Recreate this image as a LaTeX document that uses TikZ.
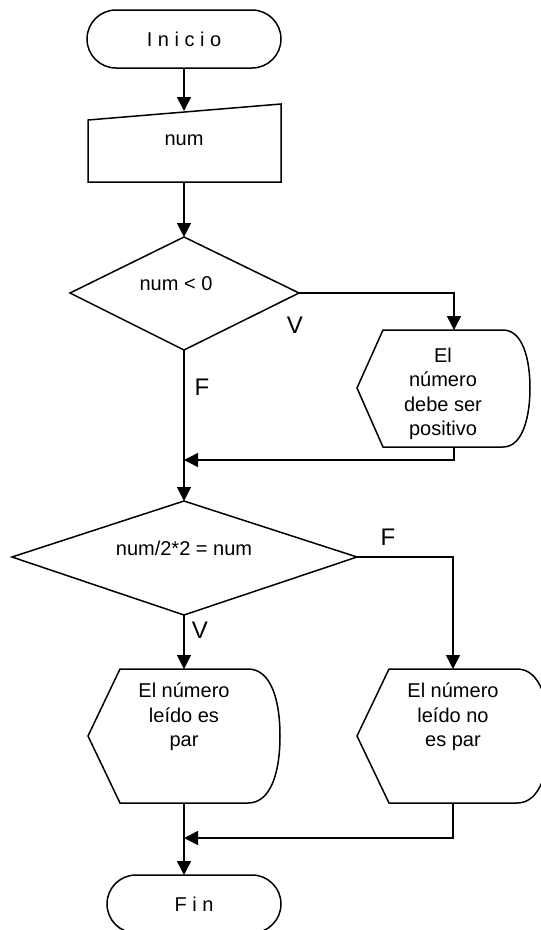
\documentclass[tikz,border=0pt]{standalone}
\usepackage{fontspec}
\setmainfont{Liberation Sans}
\usetikzlibrary{arrows.meta,shapes.misc}
\begin{document}
\begin{tikzpicture}[x=1pt,y=-1pt,
  shp/.style={line width=1.5pt, line join=miter},
  conn/.style={line width=1.5pt},
  arr/.style={conn, -{Triangle[length=14pt,width=14pt]}},
  txt/.style={font=\fontsize{20}{24.5}\selectfont, align=center, inner sep=0pt},
  lbl/.style={font=\fontsize{24}{26}\selectfont, inner sep=0pt},
  term/.style={shp, draw, rounded rectangle, rounded rectangle arc length=180,
    minimum height=58pt, inner sep=0pt, font=\fontsize{20}{24}\selectfont}]
\useasboundingbox (0,0) rectangle (541,930);

% Inicio
\node[term, minimum width=194pt] (inicio) at (184,39) {I n i c i o};

% num (manual input)
\draw[shp] (88,120) -- (281,104) -- (281,182) -- (88,182) -- cycle;
\node[txt] (num) at (184,140) {num};
\coordinate (numT) at (184,111);
\coordinate (numB) at (184,182);

% decision 1
\draw[shp] (184,237) -- (299,293) -- (184,350) -- (70,293) -- cycle;
\node[txt] (q1) at (176,284) {num < 0};
\coordinate (d1T) at (184,237);
\coordinate (d1R) at (299,293);
\coordinate (d1B) at (184,350);
\node[lbl] (v1) at (295,325) {V};
\node[lbl] (f1) at (202,387) {F};

% display 1
\draw[shp] (357,388) -- (383,330) -- (503,330)
  .. controls (523,330) and (530,360) .. (530,388)
  .. controls (530,416) and (523,447) .. (503,447) -- (383,447) -- cycle;
\node[txt] (m1) at (443,394) {El\\número\\debe ser\\positivo};
\coordinate (p1T) at (454,330);
\coordinate (p1B) at (454,447);
\coordinate (c1a) at (454,293);
\coordinate (c1b) at (454,460);
\coordinate (j1) at (184,460);

% decision 2
\draw[shp] (184,501) -- (357,557) -- (184,615) -- (12,557) -- cycle;
\node[txt] (q2) at (184,548) {num/2*2 = num};
\coordinate (d2T) at (184,501);
\coordinate (d2R) at (357,557);
\coordinate (d2B) at (184,615);
\node[lbl] (f2) at (388,537) {F};
\node[lbl] (v2) at (200,630) {V};

% display A
\draw[shp] (88,736) -- (120,669) -- (248,669)
  .. controls (271,669) and (280,700) .. (280,736)
  .. controls (280,772) and (271,803) .. (248,803) -- (120,803) -- cycle;
\node[txt] (mA) at (184,717) {El número\\leído es\\par};
\coordinate (pAT) at (184,669);
\coordinate (pAB) at (184,803);

% display B
\draw[shp] (357,736) -- (389,669) -- (517,669)
  .. controls (540,669) and (549,700) .. (549,736)
  .. controls (549,772) and (540,803) .. (517,803) -- (389,803) -- cycle;
\node[txt] (mB) at (453,717) {El número\\leído no\\es par};
\coordinate (pBT) at (453,669);
\coordinate (pBB) at (453,803);
\coordinate (c2a) at (453,557);
\coordinate (c2b) at (453,838);
\coordinate (j2) at (184,838);

% Fin
\node[term, minimum width=174pt] (fin) at (194,904) {F i n};
\coordinate (finT) at (184,875);

% connectors
\draw[arr] (inicio.south -| numT) -- (numT);
\draw[arr] (numB) -- (d1T);
\draw[arr] (d1R) -- (c1a) -- (p1T);
\draw[arr] (d1B) -- (d2T);
\draw[arr] (p1B) -- (c1b) -- (j1);
\draw[arr] (d2R) -- (c2a) -- (pBT);
\draw[arr] (d2B) -- (pAT);
\draw[arr] (pAB) -- (finT);
\draw[arr] (pBB) -- (c2b) -- (j2);
\end{tikzpicture}
\end{document}
